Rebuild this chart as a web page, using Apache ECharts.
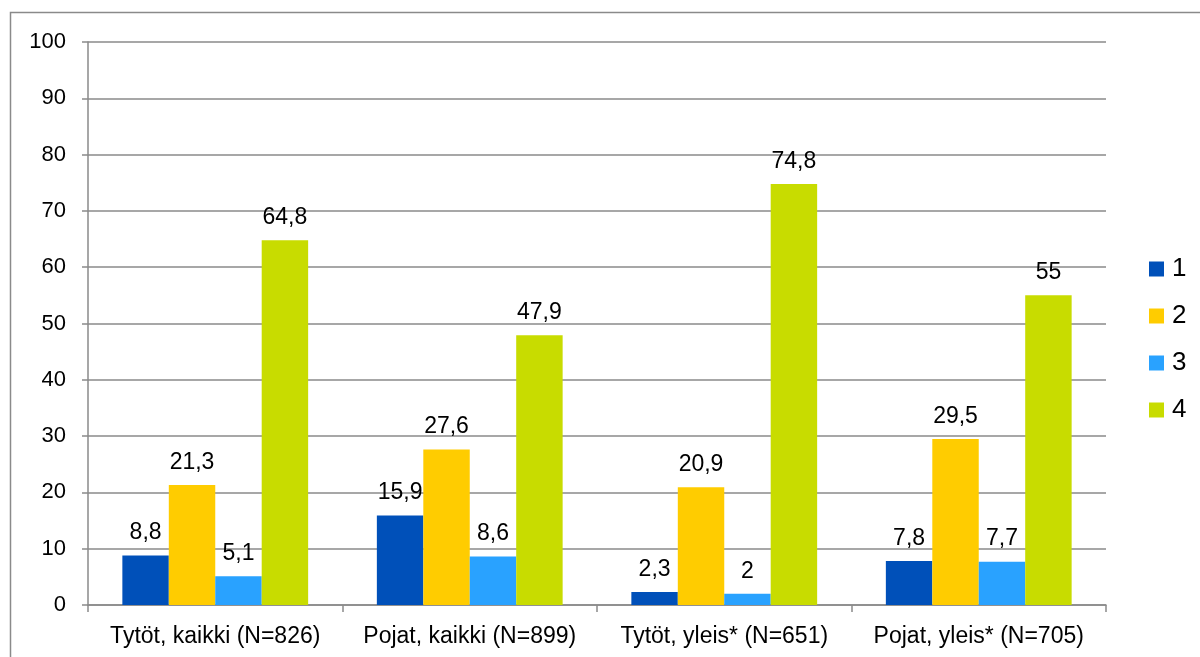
<!DOCTYPE html>
<html>
<head>
<meta charset="utf-8">
<script src="https://cdn.jsdelivr.net/npm/echarts@6/dist/echarts.min.js"></script>
<style>html,body{margin:0;padding:0;background:#fff;}#c{width:1200px;height:657px;}</style>
</head>
<body>
<div id="c"></div>
<script>
const categories = ['Tytöt, kaikki (N=826)', 'Pojat, kaikki (N=899)', 'Tytöt, yleis* (N=651)', 'Pojat, yleis* (N=705)'];
const seriesNames = ['1', '2', '3', '4'];
const s1 = [8.8, 15.9, 2.3, 7.8];
const s2 = [21.3, 27.6, 20.9, 29.5];
const s3 = [5.1, 8.6, 2, 7.7];
const s4 = [64.8, 47.9, 74.8, 55];
const yTicks = [0, 10, 20, 30, 40, 50, 60, 70, 80, 90, 100];
const colors = ['#0050B9', '#FFCC00', '#29A2FF', '#C8DC00'];

const font = 'Liberation Sans, Arial, sans-serif';
const chart = echarts.init(document.getElementById('c'));
const mk = (name, data, color) => ({
  name, type: 'bar', data, barGap: '0%', barCategoryGap: '27%',
  itemStyle: { color },
  label: {
    show: true, position: 'top', distance: 11, color: '#000', fontSize: 23, fontFamily: font,
    formatter: p => String(p.value).replace('.', ',')
  }
});
chart.setOption({
  animation: false,
  color: colors,
  graphic: [{
    type: 'rect', shape: { x: 10.5, y: 12.5, width: 1300, height: 800 },
    style: { fill: 'none', stroke: '#8a8a8a', lineWidth: 1.5 }, silent: true, z: -1
  }],
  grid: { left: 88, right: 94, top: 42, bottom: 52 },
  legend: {
    orient: 'vertical', left: 1144, top: 251, itemWidth: 15, itemHeight: 15, itemGap: 21,
    textStyle: { fontSize: 26, lineHeight: 26, color: '#000', fontFamily: font, padding: [0, 0, 0, 3] },
    icon: 'rect', data: seriesNames
  },
  xAxis: {
    type: 'category', data: categories,
    axisLine: { lineStyle: { color: '#8a8a8a', width: 1.5 } },
    axisTick: { show: true, length: 7, interval: 0, lineStyle: { color: '#8a8a8a', width: 1.5 } },
    axisLabel: { fontSize: 23, color: '#000', fontFamily: font, margin: 20, interval: 0 }
  },
  yAxis: {
    type: 'value', min: yTicks[0], max: yTicks[yTicks.length - 1], interval: 10,
    axisLine: { show: true, lineStyle: { color: '#8a8a8a', width: 1.5 } },
    axisTick: { show: true, length: 6, lineStyle: { color: '#8a8a8a', width: 1.5 } },
    splitLine: { lineStyle: { color: '#8a8a8a', width: 1.5 } },
    axisLabel: { fontSize: 22, color: '#000', fontFamily: font, margin: 22 }
  },
  series: [mk(seriesNames[0], s1, colors[0]), mk(seriesNames[1], s2, colors[1]), mk(seriesNames[2], s3, colors[2]), mk(seriesNames[3], s4, colors[3])]
});
</script>
</body>
</html>
